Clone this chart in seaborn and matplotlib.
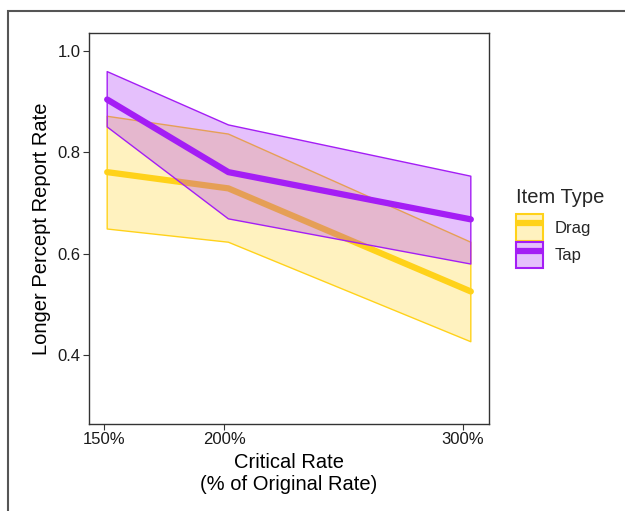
import numpy as np
import pandas as pd
import matplotlib.pyplot as plt
import seaborn as sns
from matplotlib.patches import Patch, Rectangle
from matplotlib.lines import Line2D
from matplotlib.legend_handler import HandlerTuple

# data
rates = [150, 200, 300]
rate_labels = ["150%", "200%", "300%"]
item_types = ["Drag", "Tap"]
drag_mean = [0.761, 0.729, 0.526]
drag_low = [0.649, 0.623, 0.427]
drag_high = [0.871, 0.836, 0.623]
tap_mean = [0.904, 0.761, 0.668]
tap_low = [0.850, 0.669, 0.580]
tap_high = [0.959, 0.854, 0.753]

colors = {"Drag": "#FFD21A", "Tap": "#A41EF5"}

df = pd.DataFrame({
    "rate": rates * 2,
    "item": ["Drag"] * 3 + ["Tap"] * 3,
    "mean": drag_mean + tap_mean,
    "low": drag_low + tap_low,
    "high": drag_high + tap_high,
})

sns.set_theme(style="white")
plt.rcParams["font.family"] = ["Liberation Sans", "DejaVu Sans"]

fig = plt.figure(figsize=(6.25, 5.11), dpi=100)
ax = fig.add_axes([89 / 625, 87 / 511, 400 / 625, 391 / 511])

z = 1
for item in item_types:
    d = df[df["item"] == item]
    ax.fill_between(d["rate"], d["low"], d["high"], facecolor=colors[item],
                    alpha=0.28, edgecolor="none", zorder=z)
    ax.fill_between(d["rate"], d["low"], d["high"], facecolor="none",
                    edgecolor=colors[item], linewidth=1.0, zorder=z)
    sns.lineplot(data=d, x="rate", y="mean", color=colors[item], linewidth=4.5,
                 ax=ax, zorder=z + 1, legend=False)
    z += 2

ax.set_xlim(142.5, 307.5)
ax.set_ylim(0.265, 1.035)
ax.set_xticks([148.8, 198.2, 296.8])
ax.set_xticklabels(rate_labels)
ax.set_yticks([0.4, 0.6, 0.8, 1.0])
ax.set_yticklabels(["0.4", "0.6", "0.8", "1.0"])
ax.tick_params(axis="both", which="major", length=4, width=0.8, color="#333333",
               labelsize=12, labelcolor="#1a1a1a", bottom=True, left=True, pad=2)
for s in ax.spines.values():
    s.set_color("#333333")
    s.set_linewidth(1.0)

ax.set_xlabel("Critical Rate\n(% of Original Rate)", fontsize=14.5, color="black",
              labelpad=4, linespacing=1.2)
ax.set_ylabel("Longer Percept Report Rate", fontsize=14.5, color="black", labelpad=5)

handles = []
for item in item_types:
    p = Patch(facecolor=colors[item], alpha=0.28, edgecolor="none")
    e = Patch(facecolor="none", edgecolor=colors[item], linewidth=1.5)
    l = Line2D([0.1, 0.9], [0, 0], color=colors[item], linewidth=4.5,
               solid_capstyle="butt")
    handles.append((p, e, l))
leg = fig.legend(handles, item_types, handler_map={tuple: HandlerTuple(ndivide=1)},
                 loc="upper left", bbox_to_anchor=(516 / 625, (511 - 188) / 511),
                 frameon=False, fontsize=12, title="Item Type", title_fontsize=14.5,
                 handlelength=1.6, handleheight=2.1, labelspacing=0.05,
                 handletextpad=0.7, borderpad=0, borderaxespad=0)
leg._legend_box.align = "left"
leg._legend_box.sep = 5

# outer frame around the figure (only top and left edges visible)
fig.patches.append(Rectangle((8 / 625, -0.1), 1.2, (511 - 11) / 511 + 0.1,
                             transform=fig.transFigure, fill=False,
                             edgecolor="#555555", linewidth=1.5))

fig.savefig("out.png", dpi=100)
